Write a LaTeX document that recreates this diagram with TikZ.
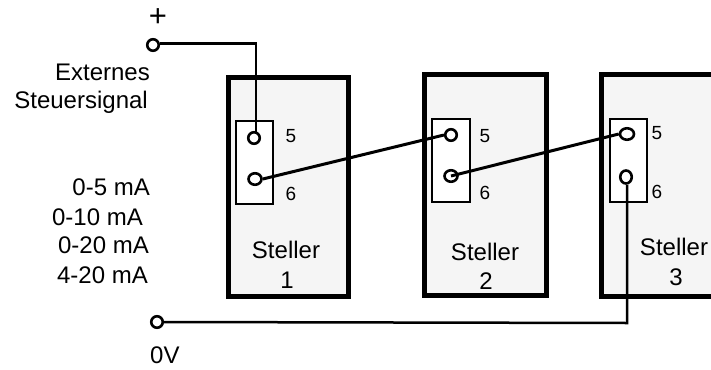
\documentclass[tikz,border=0pt]{standalone}
\usepackage{fontspec}
\setmainfont{Liberation Sans}
\usetikzlibrary{shapes.geometric}
\definecolor{panel}{HTML}{F5F5F5}
\tikzset{
  unit/.style={draw=black,line width=5pt,fill=panel,miter limit=10},
  socket/.style={draw=black,line width=2.6pt,fill=white},
  term/.style={draw=black,line width=2.6pt,fill=white,ellipse,inner sep=0pt,minimum width=#1},
  term/.default=11pt,
  wire/.style={draw=black,line width=2.5pt},
  link/.style={draw=black,line width=3pt},
  lab/.style={anchor=base,inner sep=0pt,font=\fontsize{24}{28}\selectfont},
  labr/.style={lab,anchor=base east},
  num/.style={anchor=base,inner sep=0pt,font=\fontsize{19}{22}\selectfont},
}
\begin{document}
\begin{tikzpicture}[x=1pt,y=-1pt]
\path[use as bounding box,fill=white] (0,0) rectangle (711,369);
\clip (0,0) rectangle (711,369);
% units
\draw[unit] (228.5,77.5) rectangle (348.5,296.5);
\draw[unit] (424.5,74.5) rectangle (546,295);
\draw[unit] (601.5,74.5) rectangle (730,296.5);
% socket strips
\draw[socket] (236,121) rectangle (273,204);
\draw[socket] (432,119) rectangle (470,202);
\draw[socket] (610,119) rectangle (647,202);
% terminals
\node[term=11.5pt,minimum height=11.5pt] (plus) at (153,45) {};
\node[term=11.5pt,minimum height=11.5pt] (zero) at (157,322) {};
\node[term=11.5pt,minimum height=11.5pt] (a5) at (254,138) {};
\node[term=13pt,minimum height=11.5pt] (a6) at (255,179) {};
\node[term=11.5pt,minimum height=11.5pt] (b5) at (451,135) {};
\node[term=13pt,minimum height=11.5pt] (b6) at (451,176) {};
\node[term=14pt,minimum height=11.5pt] (c5) at (627,134) {};
\node[term=11.5pt,minimum height=13pt] (c6) at (626,177) {};
% wires
\draw[wire] (plus.east) ++(0,-1.5) -- (256,43.5) -- (256,132);
\draw[link] (a6.east) -- (b5.west);
\draw[link] (b6.center) -- (c5.west);
\draw[wire] (c6.south) ++(1,0) -- (627,323) -- (zero.east);
% labels
\node[lab] (plussign) at (158,27) {\fontsize{31}{34}\selectfont +};
\node[labr] (ext) at (150,80) {Externes};
\node[labr] (steuer) at (148,108) {Steuersignal};
\node[labr] (r1) at (150,195) {0-5 mA};
\node[labr] (r2) at (143,225) {0-10 mA};
\node[labr] (r3) at (149,253) {0-20 mA};
\node[labr] (r4) at (148,283) {4-20 mA};
\node[lab,anchor=base west] (zv) at (150,363) {0V};
\node[lab] (s1) at (286,258) {Steller};
\node[lab] (n1) at (287,288) {1};
\node[lab] (s2) at (485,260) {Steller};
\node[lab] (n2) at (486,289) {2};
\node[lab] (s3) at (674,255) {Steller};
\node[lab] (n3) at (676,285) {3};
\node[num] (d15) at (291,142.5) {5};
\node[num] (d16) at (291,200) {6};
\node[num] (d25) at (485,142.5) {5};
\node[num] (d26) at (485,199.5) {6};
\node[num] (d35) at (657,139.5) {5};
\node[num] (d36) at (657,198.5) {6};
\end{tikzpicture}
\end{document}
